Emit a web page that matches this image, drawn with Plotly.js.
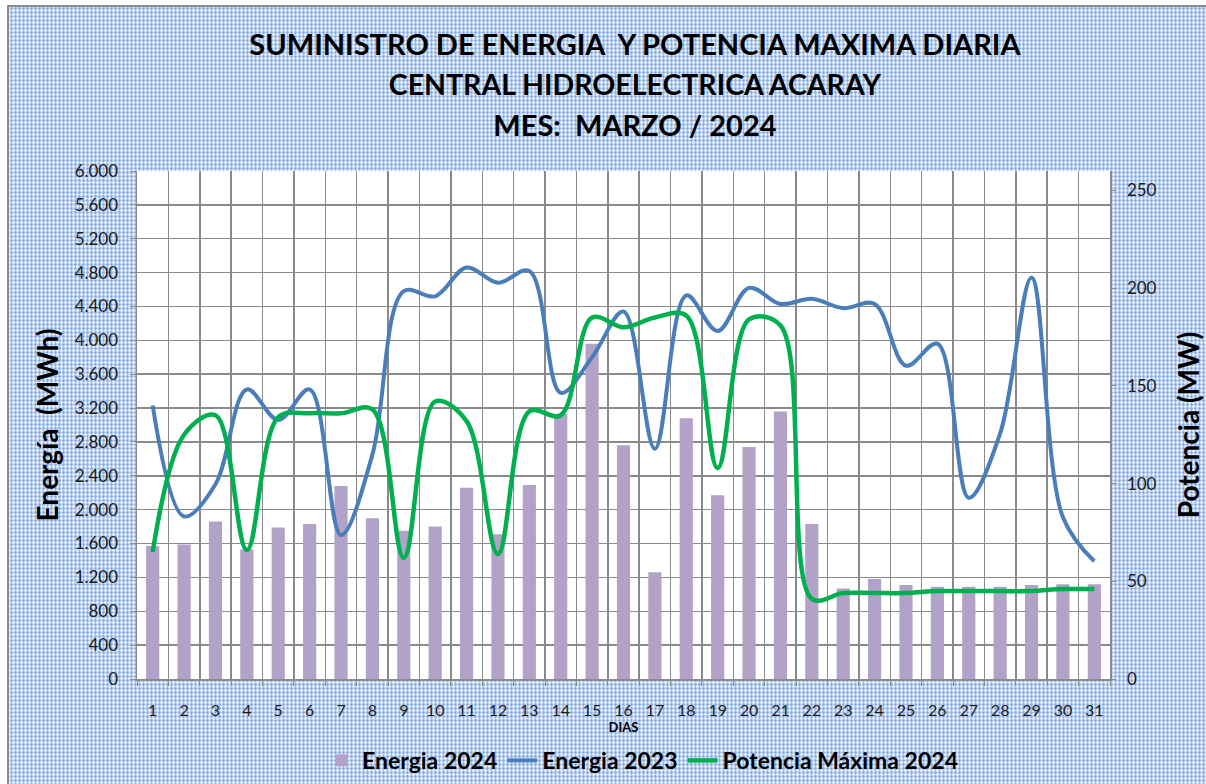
<!DOCTYPE html>
<html>
<head>
<meta charset="utf-8">
<script src="https://cdn.plot.ly/plotly-3.0.1.min.js"></script>
<style>
  html, body { margin:0; padding:0; background:#ffffff; width:1206px; height:784px; overflow:hidden; }
  #bg { position:absolute; left:7px; top:5px; width:1260px; height:840px; border:2px solid #8c8c8c;
        background-color:#bcd2f0;
        background-image:
          repeating-linear-gradient(90deg, rgba(255,255,255,.55) 0 1px, transparent 1px 2px, rgba(80,130,205,.35) 2px 3px, transparent 3px 4px),
          repeating-linear-gradient(0deg, rgba(255,255,255,.55) 0 1px, transparent 1px 2px, rgba(80,130,205,.35) 2px 3px, transparent 3px 4px); }
  #chart { position:absolute; left:0; top:0; width:1206px; height:784px; }
</style>
</head>
<body>
<div id="bg"></div>
<div id="chart"></div>
<script>
const dias = [1,2,3,4,5,6,7,8,9,10,11,12,13,14,15,16,17,18,19,20,21,22,23,24,25,26,27,28,29,30,31];
const energia2024 = [1570,1590,1860,1530,1790,1830,2280,1900,1750,1800,2260,1710,2290,3130,3960,2760,1260,3080,2170,2740,3160,1830,1070,1180,1110,1090,1090,1090,1110,1120,1120];
const energia2023 = [3230,1920,2300,3420,3060,3420,1700,2650,4580,4520,4860,4680,4820,3380,3800,4340,2720,4530,4110,4620,4430,4490,4380,4430,3700,3960,2140,2900,4740,1910,1390];
const potencia2024 = [65,125,135,66,134,136,136,138,62,142,132,64,137,135,185,180,185,186,108,184,181,41,44,44,44,45,45,45,45,46,46];
const leftTicks = [0,400,800,1200,1600,2000,2400,2800,3200,3600,4000,4400,4800,5200,5600,6000];
const rightTicks = [0,50,100,150,200,250];
const gridBounds = [0.5,1.5,2.5,3.5,4.5,5.5,6.5,7.5,8.5,9.5,10.5,11.5,12.5,13.5,14.5,15.5,16.5,17.5,18.5,19.5,20.5,21.5,22.5,23.5,24.5,25.5,26.5,27.5,28.5,29.5,30.5,31.5];

const FONT = 'Lato, "Open Sans", "DejaVu Sans", sans-serif';
const GRID = '#8a8a8a';

const traces = [
  { type:'bar', name:'Energia 2024', x:dias, y:energia2024, yaxis:'y',
    marker:{color:'#b3a2c7'}, width:0.42 },
  { type:'scatter', mode:'lines', name:'Energia 2023', x:dias, y:energia2023, yaxis:'y',
    line:{color:'#4a7ebb', width:4, shape:'spline', smoothing:1} },
  { type:'scatter', mode:'lines', name:'Potencia Máxima 2024', x:dias, y:potencia2024, yaxis:'y2',
    line:{color:'#00b050', width:4.5, shape:'spline', smoothing:1} }
];

const layout = {
  width:1206, height:784,
  paper_bgcolor:'rgba(0,0,0,0)', plot_bgcolor:'#ffffff',
  margin:{l:137, r:96, t:171, b:105, autoexpand:false},
  separators:',.',
  font:{family:FONT, color:'#1a1a1a', size:16},
  showlegend:true,
  title:{
    text:'<span style="font-size:29px">SUMINISTRO DE ENERGIA  Y POTENCIA MAXIMA DIARIA</span><br><span style="font-size:28.5px">CENTRAL HIDROELECTRICA ACARAY</span><br><span style="font-size:29px">MES:  MARZO / 2024</span>',
    font:{family:FONT, size:31, weight:'bold', color:'#000000'},
    x:0.5265, xanchor:'center', xref:'container',
    y:1-55/784, yanchor:'top', yref:'container'
  },
  xaxis:{
    type:'linear', range:[0.5,31.5], tickmode:'array', tickvals:dias, ticktext:dias.map(String),
    showgrid:false, zeroline:false, ticks:'', ticklabelstandoff:16,
    showline:true, linecolor:GRID, linewidth:1.5,
    tickfont:{family:FONT, size:16, color:'#1a1a1a'},
    minor:{tickmode:'array', tickvals:gridBounds, showgrid:true, gridcolor:GRID, gridwidth:1.5, ticks:'outside', ticklen:5, tickcolor:GRID},
    title:{text:'DIAS', font:{family:FONT, size:13, weight:'bold', color:'#000'}, standoff:0}
  },
  yaxis:{
    range:[0,6000], tickmode:'array', tickvals:leftTicks, tickformat:',d', separatethousands:true,
    showgrid:true, gridcolor:GRID, gridwidth:1.5, zeroline:false,
    showline:true, linecolor:GRID, linewidth:1.5, ticks:'outside', ticklen:6, tickcolor:GRID,
    ticklabelstandoff:8,
    tickfont:{family:FONT, size:17, color:'#1a1a1a'},
    title:{text:'Energía  (MWh)', font:{family:FONT, size:28, weight:'bold', color:'#000'}, standoff:8}
  },
  yaxis2:{
    overlaying:'y', side:'right', range:[0,260], tickmode:'array', tickvals:rightTicks,
    showgrid:false, zeroline:false, showline:true, linecolor:GRID, linewidth:1.5,
    ticks:'outside', ticklen:4, tickcolor:GRID, ticklabelstandoff:8,
    tickfont:{family:FONT, size:17, color:'#1a1a1a'},
    title:{text:'Potencia (MW)', font:{family:FONT, size:28, weight:'bold', color:'#000'}, standoff:24}
  },
  legend:{
    orientation:'h', x:0.52, xanchor:'center', y:-0.118, yanchor:'top',
    font:{family:FONT, size:23, weight:'bold', color:'#000'},
    bgcolor:'rgba(0,0,0,0)', itemwidth:30, tracegroupgap:0
  },
  bargap:0.58
};

Plotly.newPlot('chart', traces, layout, {displayModeBar:false, staticPlot:true});
</script>
</body>
</html>
